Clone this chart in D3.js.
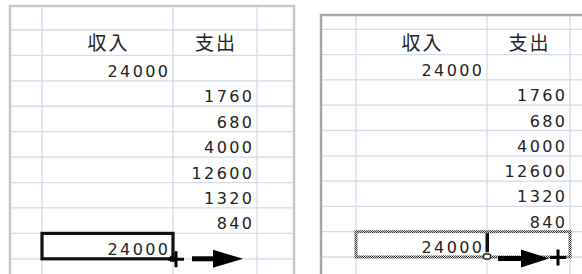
<!DOCTYPE html>
<html>
<head>
<meta charset="utf-8">
<script src="https://cdn.jsdelivr.net/npm/d3@7"></script>
<style>
  body { margin: 0; background: #fff; }
  svg { display: block; }
</style>
</head>
<body>
<div id="sheet"></div>
<script>
// values of the two cell columns
const headers = ["収入", "支出"];
const incomeValues = [24000];
const expenseValues = [1760, 680, 4000, 12600, 1320, 840];
const totalValues = [24000];

const W = 582, H = 274;

// cells: row index (0 = header row), col index (0 = 収入, 1 = 支出)
let cells = [];
headers.forEach((h, i) => cells.push({ row: 0, col: i, text: h, head: true }));
incomeValues.forEach((v, i) => cells.push({ row: 1 + i, col: 0, text: d3.format("d")(v) }));
expenseValues.forEach((v, i) => cells.push({ row: 2 + i, col: 1, text: d3.format("d")(v) }));
totalValues.forEach((v, i) => cells.push({ row: 8 + i, col: 0, text: d3.format("d")(v), total: true }));

const svg = d3.select("#sheet").append("svg")
  .attr("width", W)
  .attr("height", H);

const defs = svg.append("defs");
const pat = defs.append("pattern")
  .attr("id", "ants")
  .attr("patternUnits", "userSpaceOnUse")
  .attr("width", 2).attr("height", 2);
pat.append("rect").attr("width", 2).attr("height", 2).attr("fill", "#d8d8d8");
pat.append("rect").attr("width", 1).attr("height", 1).attr("fill", "#333");
pat.append("rect").attr("x", 1).attr("y", 1).attr("width", 1).attr("height", 1).attr("fill", "#333");

function drawPanel(cfg) {
  var g = svg.append("g");

  // column edges: row-header | 収入 | 支出 | next
  var x = d3.scaleOrdinal().domain([0, 1, 2, 3, 4]).range(cfg.cols);
  var y = d3.scaleLinear().domain([0, 9]).range([cfg.firstLine, cfg.lastLine]);
  var right = cfg.cols[cfg.cols.length - 1];

  // gridlines
  g.selectAll(".hl")
    .data(d3.range(0, 10))
    .enter().append("line")
    .attr("x1", cfg.left).attr("x2", right)
    .attr("y1", d => y(d)).attr("y2", d => y(d))
    .attr("stroke", "#d3dae8").attr("stroke-width", 1.3);

  g.selectAll(".vl")
    .data([1, 2, 3])
    .enter().append("line")
    .attr("x1", d => x(d)).attr("x2", d => x(d))
    .attr("y1", cfg.top).attr("y2", H)
    .attr("stroke", "#d3dae8").attr("stroke-width", 1.3);

  // panel frame
  g.append("path")
    .attr("d", "M" + cfg.left + "," + H + "V" + cfg.top + "H" + (cfg.frameRight || right) +
      (cfg.frameRight ? "V" + H : ""))
    .attr("fill", "none")
    .attr("stroke", cfg.frame)
    .attr("stroke-width", 2.5);

  // cell texts
  g.selectAll(".cell")
    .data(cells)
    .enter().append("text")
    .attr("x", d => d.head ? (x(d.col + 1) + x(d.col + 2)) / 2 + 1 : x(d.col + 2) - 5 + 2.4)
    .attr("y", d => y(d.row + 1) - (d.head ? 5 : 4))
    .attr("text-anchor", d => d.head ? "middle" : "end")
    .attr("font-family", d => d.head ? "'Noto Sans CJK JP', sans-serif" : "'DejaVu Sans', sans-serif")
    .attr("font-size", d => d.head ? 19 : 16)
    .attr("letter-spacing", d => d.head ? 2 : 2.4)
    .attr("fill", "#222")
    .text(d => d.text);

  cfg.extras(g, x, y);
}

function arrow(g, x0, xHead, xTip, cy) {
  g.append("rect")
    .attr("x", x0).attr("y", cy - 2.5)
    .attr("width", xHead - x0 + 1).attr("height", 5)
    .attr("fill", "#000");
  g.append("path")
    .attr("d", "M" + xHead + "," + (cy - 9) + "L" + xTip + "," + cy + "L" + xHead + "," + (cy + 9) + "Z")
    .attr("fill", "#000");
}

function cross(g, cx, cy) {
  g.append("path")
    .attr("d", "M" + (cx - 8) + "," + cy + "H" + (cx + 8) + "M" + cx + "," + (cy - 8) + "V" + (cy + 8))
    .attr("stroke", "#000").attr("stroke-width", 3);
}

// left: copied cell selected with solid border
drawPanel({
  left: 10, top: 6, cols: [10, 42, 173, 257, 294], frameRight: 294,
  firstLine: 30, lastLine: 258.8, frame: "#c6c6c6",
  extras: function (g, x, y) {
    g.append("rect")
      .attr("x", x(1)).attr("y", y(8))
      .attr("width", x(2) - x(1)).attr("height", y(9) - y(8))
      .attr("fill", "none").attr("stroke", "#111").attr("stroke-width", 3.2);
    g.append("rect")
      .attr("x", x(2) - 3).attr("y", y(9) - 3)
      .attr("width", 6).attr("height", 6).attr("fill", "#111");
    cross(g, x(2) + 3, y(9) + 0.5);
    arrow(g, x(2) + 19, x(2) + 40, x(2) + 70, y(9));
  }
});

// right: after dragging, dotted selection over two cells
drawPanel({
  left: 321, top: 15, cols: [321, 356, 487, 570, 582],
  firstLine: 29.3, lastLine: 257, frame: "#a6a6a6",
  extras: function (g, x, y) {
    g.append("rect")
      .attr("x", x(1)).attr("y", y(8))
      .attr("width", x(3) - x(1)).attr("height", y(9) - y(8))
      .attr("fill", "none").attr("stroke", "url(#ants)").attr("stroke-width", 3);
    g.append("rect")
      .attr("x", x(2) - 1.5).attr("y", y(8) + 1.5)
      .attr("width", 3.5).attr("height", 19)
      .attr("fill", "#111");
    g.append("rect")
      .attr("x", x(2) - 3.5).attr("y", y(9) - 3)
      .attr("width", 7).attr("height", 5).attr("rx", 2)
      .attr("fill", "#fff").attr("stroke", "#222").attr("stroke-width", 1.5);
    arrow(g, x(2) + 11, x(2) + 34, x(2) + 62, y(9) + 1.5);
    cross(g, x(3) - 12, y(9) + 0.5);
  }
});
</script>
</body>
</html>
